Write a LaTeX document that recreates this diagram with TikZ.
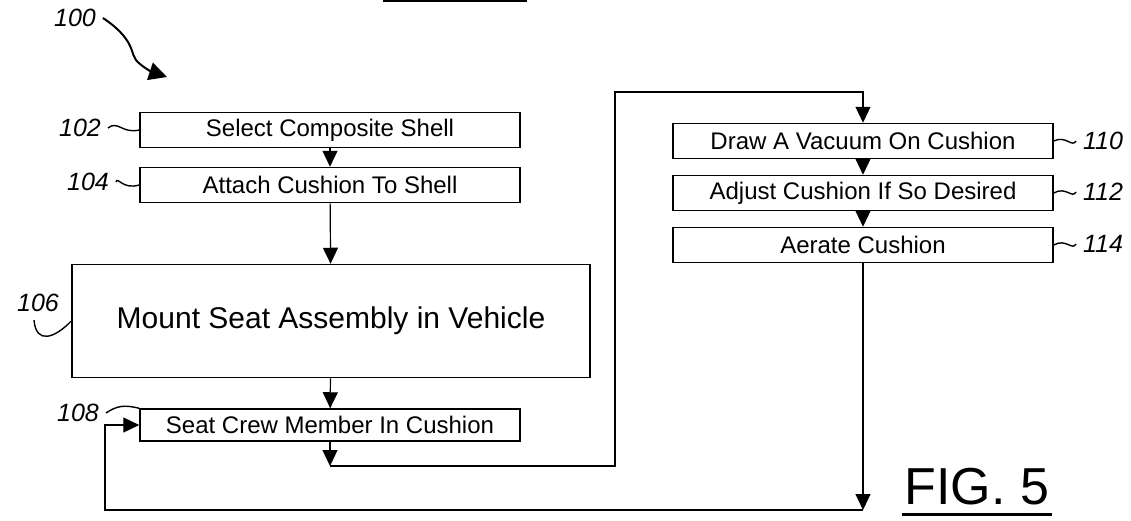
\documentclass[tikz,border=0pt]{standalone}
\usepackage{fontspec}
\setmainfont{Liberation Sans}
\usetikzlibrary{arrows.meta,positioning,calc}

\begin{document}
\begin{tikzpicture}[x=0.5pt,y=-0.5pt,
  box/.style={draw,line width=0.75pt,minimum width=190pt,minimum height=17.5pt,
              inner sep=0pt,font=\fontsize{12}{14}\selectfont},
  arr/.style={-{Triangle[width=7.5pt,length=8pt]},line width=0.6pt},
  ref/.style={font=\fontsize{12.5}{14}\selectfont\itshape},
  sq/.style={line width=0.7pt},
]
\useasboundingbox (0,0) rectangle (1131,520);
% left column
\node[box] (shell) at (330,130) {Select Composite Shell};
\node[box] (attach) at (330,185) {Attach Cushion To Shell};
\node[box,minimum width=259pt,minimum height=56.5pt,
      font=\fontsize{15}{17}\selectfont] (mount) at (331,321)
  {Mount Seat Assembly in Vehicle};
\node[box,minimum height=16pt] (crew) at (330,425) {Seat Crew Member In Cushion};
% right column
\node[box] (vacuum) at (863,141) {Draw A Vacuum On Cushion};
\node[box] (adjust) at (863,193) {Adjust Cushion If So Desired};
\node[box] (aerate) at (863,245) {Aerate Cushion};
% reference numerals
\node[ref] (n100) at (75,18) {100};
\node[ref] (n102) at (80,128) {102};
\node[ref] (n104) at (88,182) {104};
\node[ref] (n106) at (38,303) {106};
\node[ref] (n108) at (78,413) {108};
\node[ref] (n110) at (1103,141) {110};
\node[ref] (n112) at (1103,192) {112};
\node[ref] (n114) at (1103,244) {114};
\node[font=\fontsize{26}{28}\selectfont] (fig) at (977,487) {FIG. 5};
\draw[line width=1.4pt] ($(fig.south west)+(4,2)$) -- ($(fig.south east)+(-4,2)$);
% squiggle leaders
\coordinate (tip100) at (167,77);
\draw[line width=1pt,-{Triangle[width=9pt,length=9pt]}] (n100.east)
  .. controls (112,24) and (122,32) .. (128,42)
  .. controls (134,52) and (132,58) .. (140,64)
  .. controls (146,69) and (152,72) .. (tip100);
\draw[sq] (n102.east) .. controls (118,120) and (122,134) .. (shell.west);
\draw[sq] (n104.east) .. controls (118,176) and (122,190) .. (attach.west);
\draw[sq] (34,320) .. controls (36,345) and (55,338) .. (mount.west);
\draw[sq] (n108.east) .. controls (118,405) and (125,405) .. (crew.north west);
\draw[sq] (vacuum.east) .. controls (1066,135) and (1072,148) .. (n110.west);
\draw[sq] (adjust.east) .. controls (1066,186) and (1072,199) .. (n112.west);
\draw[sq] (aerate.east) .. controls (1066,238) and (1072,251) .. (n114.west);
% stray rule at top edge
\draw[line width=1.2pt] (383,0.8) -- (527,0.8);
% flow
\draw[arr] (shell) -- (attach);
\draw[arr] (attach) -- (mount);
\draw[arr] (mount) -- (crew);
\coordinate (j1) at (330,466);
\coordinate (j2) at (615,466);
\coordinate (j3) at (615,92);
\coordinate (j4) at (863,92);
\draw[arr] (crew) -- (j1);
\draw[arr] (j1) -- (j2) -- (j3) -- (j4) -- (vacuum);
\draw[arr] (vacuum) -- (adjust);
\draw[arr] (adjust) -- (aerate);
\coordinate (k1) at (863,510);
\coordinate (k2) at (105,510);
\coordinate (k3) at (105,425);
\draw[arr] (aerate) -- (k1);
\draw[arr] (k1) -- (k2) -- (k3) -- (crew.west);
\end{tikzpicture}
\end{document}
